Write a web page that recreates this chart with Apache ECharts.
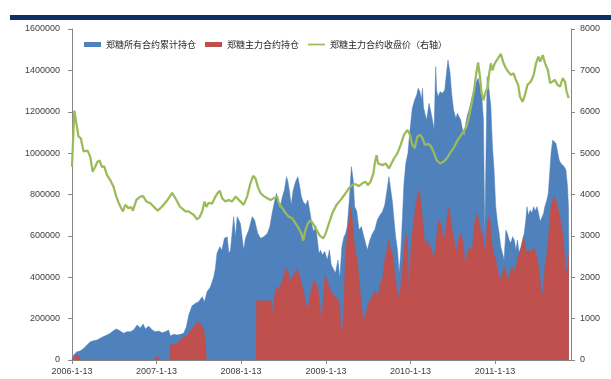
<!DOCTYPE html>
<html>
<head>
<meta charset="utf-8">
<script src="https://cdn.jsdelivr.net/npm/echarts@6/dist/echarts.min.js"></script>
<style>
  html, body { margin: 0; padding: 0; background: #fff; }
  #chart { width: 611px; height: 379px; }
</style>
</head>
<body>
<div id="chart"></div>
<script>
// Series names
const seriesNames = ['郑糖所有合约累计持仓', '郑糖主力合约持仓', '郑糖主力合约收盘价（右轴）'];

// X axis tick labels (one per year)
const xTickLabels = ['2006-1-13', '2007-1-13', '2008-1-13', '2009-1-13', '2010-1-13', '2011-1-13'];
const xStart = '2006-01-13';
const xEnd = '2011-12-07';

// Open interest, all contracts [date, lots]
const allOpenInterest = [
  ['2006-01-13',0],['2006-01-20',24000],['2006-02-03',40000],['2006-02-17',43000],['2006-03-04',56000],
  ['2006-03-19',72000],['2006-04-02',88000],['2006-04-16',93000],['2006-05-01',97000],['2006-05-15',105000],
  ['2006-05-29',113000],['2006-06-13',121000],['2006-06-27',129000],['2006-07-12',142000],['2006-07-23',150000],
  ['2006-08-02',145000],['2006-08-14',137000],['2006-08-24',129000],['2006-09-07',137000],['2006-09-22',137000],
  ['2006-10-06',145000],['2006-10-21',169000],['2006-11-04',155000],['2006-11-16',174000],['2006-11-26',150000],
  ['2006-12-10',164000],['2006-12-25',145000],['2007-01-08',137000],['2007-01-22',140000],['2007-02-06',132000],
  ['2007-02-20',137000],['2007-03-06',145000],['2007-03-14',116000],['2007-03-28',124000],['2007-04-12',121000],
  ['2007-04-26',124000],['2007-05-10',129000],['2007-05-22',161000],['2007-06-01',217000],['2007-06-15',261000],
  ['2007-06-30',274000],['2007-07-14',282000],['2007-07-29',306000],['2007-08-08',282000],['2007-08-19',330000],
  ['2007-09-03',354000],['2007-09-17',403000],['2007-09-24',443000],['2007-10-01',516000],['2007-10-13',548000],
  ['2007-10-22',530000],['2007-11-02',588000],['2007-11-14',596000],['2007-11-21',516000],['2007-11-28',530000],
  ['2007-12-12',693000],['2007-12-20',596000],['2007-12-27',693000],['2008-01-03',693000],['2008-01-10',660000],
  ['2008-01-24',532000],['2008-02-01',588000],['2008-02-15',628000],['2008-03-01',693000],['2008-03-11',677000],
  ['2008-03-25',612000],['2008-04-06',588000],['2008-04-20',596000],['2008-05-05',612000],['2008-05-16',644000],
  ['2008-05-26',709000],['2008-06-05',765000],['2008-06-14',806000],['2008-06-20',773000],['2008-06-28',733000],
  ['2008-07-09',789000],['2008-07-18',822000],['2008-07-27',886000],['2008-08-02',862000],['2008-08-10',806000],
  ['2008-08-16',749000],['2008-08-25',822000],['2008-09-04',862000],['2008-09-14',886000],['2008-09-22',838000],
  ['2008-09-29',789000],['2008-10-07',765000],['2008-10-17',749000],['2008-10-27',773000],['2008-11-05',717000],
  ['2008-11-15',644000],['2008-11-22',620000],['2008-11-30',650000],['2008-12-07',580000],['2008-12-14',516000],
  ['2008-12-21',530000],['2008-12-29',508000],['2009-01-08',525000],['2009-01-19',483000],['2009-01-28',532000],
  ['2009-02-05',459000],['2009-02-13',443000],['2009-02-23',419000],['2009-03-06',483000],['2009-03-14',395000],
  ['2009-03-23',548000],['2009-04-01',596000],['2009-04-08',610000],['2009-04-15',644000],['2009-04-24',773000],
  ['2009-05-03',934000],['2009-05-11',870000],['2009-05-17',741000],['2009-05-26',720000],['2009-06-05',628000],
  ['2009-06-15',645000],['2009-06-26',596000],['2009-07-11',532000],['2009-07-22',580000],['2009-08-02',612000],
  ['2009-08-12',630000],['2009-08-23',677000],['2009-09-03',700000],['2009-09-14',717000],['2009-09-24',749000],
  ['2009-10-02',806000],['2009-10-12',886000],['2009-10-20',886000],['2009-10-27',765000],['2009-11-03',677000],
  ['2009-11-10',596000],['2009-11-18',532000],['2009-11-25',419000],['2009-12-02',516000],['2009-12-09',680000],
  ['2009-12-16',854000],['2009-12-24',951000],['2010-01-02',999000],['2010-01-11',1112000],['2010-01-21',1217000],
  ['2010-01-31',1257000],['2010-02-09',1281000],['2010-02-15',1313000],['2010-02-23',1297000],['2010-03-01',1257000],
  ['2010-03-06',1313000],['2010-03-10',1225000],['2010-03-16',1193000],['2010-03-24',1160000],['2010-04-03',1241000],
  ['2010-04-11',1200000],['2010-04-18',1160000],['2010-04-25',1112000],['2010-05-02',1418000],['2010-05-06',1305000],
  ['2010-05-12',1273000],['2010-05-21',1297000],['2010-05-31',1289000],['2010-06-10',1305000],['2010-06-19',1402000],
  ['2010-06-24',1450000],['2010-07-03',1386000],['2010-07-09',1297000],['2010-07-18',1209000],['2010-07-28',1168000],
  ['2010-08-04',1193000],['2010-08-11',1176000],['2010-08-18',1160000],['2010-08-26',1112000],['2010-09-02',1080000],
  ['2010-09-09',1144000],['2010-09-16',1184000],['2010-09-23',1209000],['2010-10-03',1257000],['2010-10-12',1297000],
  ['2010-10-22',1338000],['2010-11-01',1362000],['2010-11-10',1321000],['2010-11-16',1289000],['2010-11-24',1160000],
  ['2010-11-30',600000],['2010-12-06',600000],['2010-12-10',1370000],['2010-12-15',1340000],['2010-12-26',1225000],
  ['2011-01-02',1031000],['2011-01-09',918000],['2011-01-16',741000],['2011-01-24',661000],['2011-01-31',612000],
  ['2011-02-07',548000],['2011-02-14',516000],['2011-02-21',483000],['2011-03-01',628000],['2011-03-08',610000],
  ['2011-03-15',580000],['2011-03-22',565000],['2011-03-30',596000],['2011-04-06',580000],['2011-04-13',532000],
  ['2011-04-20',580000],['2011-04-27',516000],['2011-05-05',548000],['2011-05-12',580000],['2011-05-19',612000],
  ['2011-05-26',677000],['2011-05-31',741000],['2011-06-06',700000],['2011-06-14',725000],['2011-06-21',710000],
  ['2011-06-29',741000],['2011-07-06',720000],['2011-07-13',741000],['2011-07-20',709000],['2011-07-27',669000],
  ['2011-08-03',677000],['2011-08-11',709000],['2011-08-16',741000],['2011-08-25',773000],['2011-08-31',806000],
  ['2011-09-06',902000],['2011-09-12',999000],['2011-09-19',1063000],['2011-09-26',1071000],['2011-10-03',1047000],
  ['2011-10-10',1007000],['2011-10-17',967000],['2011-10-24',951000],['2011-11-01',955000],['2011-11-08',934000],
  ['2011-11-15',918000],['2011-11-22',838000],['2011-11-26',741000],['2011-11-28',520000]
];

// Open interest, main contract [date, lots]
const mainOpenInterest = [
  ['2006-01-13',0],['2006-01-21',15000],['2006-01-29',25000],['2006-02-09',20000],['2006-02-20',0],
  ['2007-01-03',0],['2007-01-10',15000],['2007-01-23',15000],['2007-01-30',0],['2007-03-12',0],
  ['2007-03-14',80000],['2007-03-25',75000],['2007-04-04',72000],['2007-04-15',85000],['2007-04-26',97000],
  ['2007-05-10',110000],['2007-05-25',121000],['2007-06-08',140000],['2007-06-22',161000],['2007-07-07',183000],
  ['2007-07-22',177000],['2007-08-05',145000],['2007-08-12',97000],['2007-08-16',0],['2008-03-17',0],
  ['2008-03-19',290000],['2008-04-06',282000],['2008-04-20',290000],['2008-05-05',282000],['2008-05-19',290000],
  ['2008-05-26',218000],['2008-06-02',290000],['2008-06-14',354000],['2008-06-24',340000],['2008-07-04',371000],
  ['2008-07-15',403000],['2008-07-23',443000],['2008-08-02',435000],['2008-08-10',371000],['2008-08-21',403000],
  ['2008-08-31',415000],['2008-09-12',443000],['2008-09-18',415000],['2008-09-26',387000],['2008-10-03',354000],
  ['2008-10-10',322000],['2008-10-17',274000],['2008-10-25',242000],['2008-11-02',250000],['2008-11-08',322000],
  ['2008-11-15',354000],['2008-11-22',387000],['2008-11-30',370000],['2008-12-09',354000],['2008-12-18',258000],
  ['2008-12-24',177000],['2009-01-02',306000],['2009-01-08',403000],['2009-01-16',390000],['2009-01-26',354000],
  ['2009-02-05',330000],['2009-02-13',338000],['2009-02-23',306000],['2009-03-06',290000],['2009-03-14',274000],
  ['2009-03-20',97000],['2009-03-29',193000],['2009-04-08',516000],['2009-04-15',596000],['2009-04-22',677000],
  ['2009-04-30',741000],['2009-05-07',677000],['2009-05-14',580000],['2009-05-21',516000],['2009-05-29',483000],
  ['2009-06-05',387000],['2009-06-12',306000],['2009-06-19',226000],['2009-06-26',193000],['2009-07-04',215000],
  ['2009-07-13',274000],['2009-07-25',290000],['2009-08-06',322000],['2009-08-16',338000],['2009-08-26',290000],
  ['2009-09-03',371000],['2009-09-14',387000],['2009-09-24',483000],['2009-10-02',516000],['2009-10-08',580000],
  ['2009-10-17',548000],['2009-10-27',516000],['2009-11-03',451000],['2009-11-10',387000],['2009-11-18',322000],
  ['2009-11-25',300000],['2009-12-02',354000],['2009-12-09',430000],['2009-12-16',516000],['2009-12-24',612000],
  ['2009-12-31',580000],['2010-01-07',274000],['2010-01-14',516000],['2010-01-21',612000],['2010-01-28',677000],
  ['2010-02-04',741000],['2010-02-12',789000],['2010-02-19',822000],['2010-02-26',773000],['2010-03-06',677000],
  ['2010-03-13',596000],['2010-03-20',548000],['2010-03-28',580000],['2010-04-08',548000],['2010-04-18',516000],
  ['2010-04-25',483000],['2010-05-02',548000],['2010-05-10',644000],['2010-05-16',677000],['2010-05-24',660000],
  ['2010-05-31',612000],['2010-06-07',580000],['2010-06-15',628000],['2010-06-22',709000],['2010-06-29',741000],
  ['2010-07-06',677000],['2010-07-14',612000],['2010-07-21',580000],['2010-07-28',516000],['2010-08-04',548000],
  ['2010-08-11',596000],['2010-08-18',612000],['2010-08-26',580000],['2010-09-02',516000],['2010-09-09',451000],
  ['2010-09-16',516000],['2010-09-23',548000],['2010-10-01',530000],['2010-10-08',548000],['2010-10-18',661000],
  ['2010-10-27',709000],['2010-11-01',690000],['2010-11-10',644000],['2010-11-16',612000],['2010-11-22',590000],
  ['2010-11-27',548000],['2010-12-03',516000],['2010-12-09',644000],['2010-12-14',693000],['2010-12-22',677000],
  ['2010-12-29',580000],['2011-01-06',516000],['2011-01-16',483000],['2011-01-24',435000],['2011-01-31',403000],
  ['2011-02-07',387000],['2011-02-14',420000],['2011-02-21',451000],['2011-03-01',420000],['2011-03-11',387000],
  ['2011-03-18',420000],['2011-03-27',451000],['2011-04-04',420000],['2011-04-13',451000],['2011-04-20',483000],
  ['2011-04-27',516000],['2011-05-08',548000],['2011-05-16',596000],['2011-05-26',532000],['2011-06-02',516000],
  ['2011-06-09',532000],['2011-06-20',516000],['2011-06-29',548000],['2011-07-09',516000],['2011-07-16',483000],
  ['2011-07-23',419000],['2011-07-30',354000],['2011-08-07',306000],['2011-08-11',350000],['2011-08-16',451000],
  ['2011-08-25',516000],['2011-08-31',580000],['2011-09-06',677000],['2011-09-12',741000],['2011-09-19',773000],
  ['2011-09-26',789000],['2011-10-03',773000],['2011-10-10',741000],['2011-10-17',709000],['2011-10-24',661000],
  ['2011-11-01',612000],['2011-11-08',516000],['2011-11-15',419000],['2011-11-22',451000],['2011-11-28',516000]
];

// Main contract closing price [date, yuan/ton]
const mainClosePrice = [
  ['2006-01-13',4670],['2006-01-23',6030],['2006-02-10',5400],['2006-02-20',5360],['2006-03-04',5040],
  ['2006-03-21',5060],['2006-04-02',4910],['2006-04-12',4550],['2006-04-23',4670],['2006-05-03',4790],
  ['2006-05-12',4820],['2006-05-22',4670],['2006-06-01',4680],['2006-06-13',4470],['2006-06-27',4350],
  ['2006-07-11',4190],['2006-07-23',3950],['2006-08-06',3750],['2006-08-21',3590],['2006-08-31',3750],
  ['2006-09-14',3670],['2006-09-25',3700],['2006-10-03',3610],['2006-10-18',3870],['2006-11-04',3950],
  ['2006-11-16',3960],['2006-11-30',3830],['2006-12-17',3790],['2006-12-31',3710],['2007-01-18',3610],
  ['2007-02-06',3710],['2007-02-24',3830],['2007-03-11',3950],['2007-03-21',4040],['2007-03-31',3950],
  ['2007-04-12',3830],['2007-04-23',3710],['2007-05-08',3640],['2007-05-18',3590],['2007-05-31',3590],
  ['2007-06-11',3550],['2007-06-22',3510],['2007-07-07',3400],['2007-07-17',3450],['2007-07-29',3590],
  ['2007-08-08',3830],['2007-08-16',3700],['2007-08-26',3800],['2007-09-10',3780],['2007-09-24',3950],
  ['2007-10-04',4040],['2007-10-13',4090],['2007-10-23',3910],['2007-11-06',3830],['2007-11-21',3870],
  ['2007-12-05',3830],['2007-12-20',3950],['2008-01-03',3870],['2008-01-10',3910],['2008-01-24',3750],
  ['2008-02-08',3950],['2008-02-22',4270],['2008-03-05',4450],['2008-03-15',4390],['2008-03-25',4190],
  ['2008-04-06',4030],['2008-04-20',3960],['2008-05-05',3910],['2008-05-19',3870],['2008-06-02',3910],
  ['2008-06-17',3950],['2008-06-24',3790],['2008-07-09',3670],['2008-07-23',3550],['2008-08-06',3460],
  ['2008-08-21',3420],['2008-09-04',3300],['2008-09-18',3180],['2008-09-29',3060],['2008-10-07',2880],
  ['2008-10-17',3140],['2008-10-27',3300],['2008-11-08',3380],['2008-11-19',3290],['2008-12-04',3140],
  ['2008-12-18',3000],['2009-01-02',2940],['2009-01-12',3060],['2009-01-26',3300],['2009-02-10',3550],
  ['2009-02-28',3750],['2009-03-18',3870],['2009-04-08',4030],['2009-04-22',4150],['2009-05-07',4230],
  ['2009-05-21',4250],['2009-06-04',4200],['2009-06-19',4270],['2009-07-03',4310],['2009-07-13',4230],
  ['2009-07-25',4310],['2009-08-06',4510],['2009-08-13',4790],['2009-08-20',4950],['2009-08-26',4750],
  ['2009-09-03',4790],['2009-09-14',4710],['2009-09-28',4750],['2009-10-12',4630],['2009-10-23',4750],
  ['2009-11-03',4870],['2009-11-18',5000],['2009-12-02',5200],['2009-12-16',5440],['2009-12-31',5560],
  ['2010-01-11',5440],['2010-01-21',5200],['2010-01-31',5120],['2010-02-12',5400],['2010-02-23',5440],
  ['2010-03-06',5360],['2010-03-16',5200],['2010-03-30',5220],['2010-04-11',5170],['2010-04-22',5040],
  ['2010-05-06',4830],['2010-05-21',4750],['2010-06-04',4790],['2010-06-19',4870],['2010-07-03',5000],
  ['2010-07-18',5120],['2010-08-01',5280],['2010-08-15',5400],['2010-08-30',5520],['2010-09-13',5660],
  ['2010-09-23',5880],['2010-10-03',6160],['2010-10-15',6530],['2010-10-23',6890],['2010-11-01',7190],
  ['2010-11-10',6810],['2010-11-16',6450],['2010-11-24',6280],['2010-12-04',6490],['2010-12-12',6570],
  ['2010-12-19',6930],['2010-12-26',7170],['2011-01-02',7000],['2011-01-12',7170],['2011-01-26',7290],
  ['2011-02-07',7400],['2011-02-19',7170],['2011-03-01',7050],['2011-03-11',6970],['2011-03-22',6890],
  ['2011-04-03',6930],['2011-04-13',6770],['2011-04-23',6650],['2011-05-01',6360],['2011-05-12',6240],
  ['2011-05-22',6400],['2011-06-02',6650],['2011-06-17',6730],['2011-06-29',6890],['2011-07-09',7170],
  ['2011-07-19',7330],['2011-07-27',7210],['2011-08-07',7370],['2011-08-17',7170],['2011-08-29',7010],
  ['2011-09-08',6690],['2011-09-18',6730],['2011-09-28',6770],['2011-10-10',6650],['2011-10-21',6610],
  ['2011-11-01',6810],['2011-11-11',6730],['2011-11-18',6490],['2011-11-27',6330]
];

// Days since the first trading date, used as the x coordinate
const DAY0 = Date.UTC(2006, 0, 13);
function dayOf(s) {
  const p = s.split('-').map(Number);
  return Math.round((Date.UTC(p[0], p[1] - 1, p[2]) - DAY0) / 86400000);
}
const toXY = rows => rows.map(r => [dayOf(r[0]), r[1]]);
const xTickValues = xTickLabels.map(dayOf);

const axisGray = '#868686';
const labelColor = '#404040';
const numFont = "'Liberation Sans', Arial, sans-serif";
const cjkFont = "'Noto Sans CJK SC', sans-serif";
const plainNumber = v => String(v);

const chart = echarts.init(document.getElementById('chart'), null, { renderer: 'canvas' });
chart.setOption({
  animation: false,
  backgroundColor: '#ffffff',
  graphic: [{
    type: 'rect',
    shape: { x: 10, y: 15, width: 601, height: 5 },
    style: { fill: '#0e3163' },
    silent: true
  }],
  legend: {
    left: 79,
    top: 35,
    itemWidth: 17,
    itemHeight: 5,
    itemGap: 9,
    textStyle: { fontSize: 9, color: '#262626', fontFamily: cjkFont },
    data: [
      { name: seriesNames[0], icon: 'rect' },
      { name: seriesNames[1], icon: 'rect' },
      { name: seriesNames[2], icon: 'path://M0,0H20V2H0Z' }
    ]
  },
  grid: { left: 72, right: 40, top: 29, bottom: 19, containLabel: false },
  xAxis: {
    type: 'value',
    min: 0,
    max: dayOf(xEnd),
    splitLine: { show: false },
    axisLine: { show: true, lineStyle: { color: axisGray, width: 1 } },
    axisTick: { show: true, length: 4, customValues: xTickValues, lineStyle: { color: axisGray } },
    axisLabel: {
      customValues: xTickValues,
      formatter: v => xTickLabels[xTickValues.indexOf(v)] || '',
      fontSize: 9, color: labelColor, fontFamily: numFont, margin: 7
    }
  },
  yAxis: [{
    type: 'value',
    min: 0, max: 1600000, interval: 200000,
    splitLine: { show: false },
    axisLine: { show: true, lineStyle: { color: axisGray } },
    axisTick: { show: true, length: 4, lineStyle: { color: axisGray } },
    axisLabel: { formatter: plainNumber, fontSize: 9, color: labelColor, fontFamily: numFont, margin: 12 }
  }, {
    type: 'value',
    min: 0, max: 8000, interval: 1000,
    splitLine: { show: false },
    axisLine: { show: true, lineStyle: { color: axisGray } },
    axisTick: { show: true, length: 4, lineStyle: { color: axisGray } },
    axisLabel: { formatter: plainNumber, fontSize: 9, color: labelColor, fontFamily: numFont, margin: 9 }
  }],
  series: [{
    name: seriesNames[0],
    type: 'line',
    data: toXY(allOpenInterest),
    symbol: 'none',
    color: '#4f81bd',
    lineStyle: { width: 0.5, color: '#4f81bd' },
    areaStyle: { color: '#4f81bd', opacity: 1 },
    z: 1
  }, {
    name: seriesNames[1],
    type: 'line',
    data: toXY(mainOpenInterest),
    symbol: 'none',
    color: '#c0504d',
    lineStyle: { width: 0.5, color: '#c0504d' },
    areaStyle: { color: '#c0504d', opacity: 1 },
    z: 2
  }, {
    name: seriesNames[2],
    type: 'line',
    yAxisIndex: 1,
    data: toXY(mainClosePrice),
    symbol: 'none',
    color: '#9bbb59',
    lineStyle: { width: 2.25, color: '#9bbb59' },
    z: 3
  }]
});
</script>
</body>
</html>
